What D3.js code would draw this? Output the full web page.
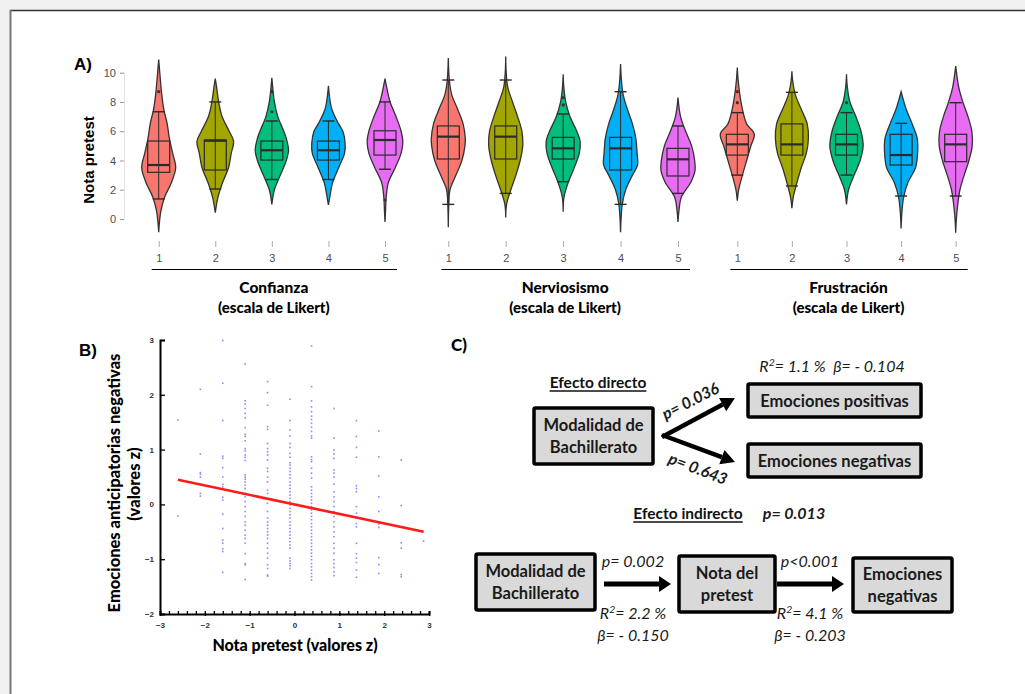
<!DOCTYPE html>
<html><head><meta charset="utf-8">
<script src="https://cdn.jsdelivr.net/npm/d3@7"></script>
<style>body{margin:0;background:#fff} svg{display:block}</style>
</head><body><svg id="c" width="1025" height="694"></svg>
<script>
// ---------------- DATA ----------------
const likert = ["1","2","3","4","5"];
const scaleNames = ["Confianza","Nerviosismo","Frustración"];
const scaleSub = "(escala de Likert)";
const fillColors = ["#F8766D","#A3A500","#00BF7D","#00B0F6","#E76BF3"];
const yTicksA = [0,2,4,6,8,10];
// box statistics per scale x likert level
const q1 = [[3.19,3.35,4.03,4.03,4.37],[4.10,4.10,4.10,3.35,2.94],[4.37,4.37,4.37,3.69,3.92]];
const med = [[3.69,5.35,4.70,4.70,5.40],[5.63,5.63,4.83,4.83,4.08],[5.10,5.10,5.10,4.37,5.10]];
const q3 = [[5.33,5.40,5.33,5.33,6.03],[6.36,6.36,5.58,5.58,4.83],[5.79,6.50,5.79,5.79,5.79]];
const whiskLo = [[1.37,2.05,2.70,2.70,3.40],[1.00,1.75,2.55,1.00,1.75],[3.00,2.26,3.00,1.57,1.57]];
const whiskHi = [[7.33,8.00,6.70,6.70,8.00],[9.50,9.50,7.18,8.70,6.36],[7.27,8.66,7.27,6.54,7.95]];
// outliers: [scale, level, value]
const outliers = [[0,0,8.7],[0,2,8.7],[0,2,7.33],[0,4,1.3],[1,2,8.3],[1,2,7.8],[2,0,8.7],[2,0,7.95],[2,2,7.95]];
// violin density profiles: [value, relative density]
const densC = [
 [[-0.9,0],[0.5,0.12],[1.5,0.35],[2.5,0.75],[3.5,1.0],[4.5,0.82],[5.5,0.63],[6.5,0.5],[7.5,0.3],[8.5,0.18],[9.5,0.1],[10.9,0]],
 [[0.43,0],[1.5,0.16],[2.5,0.43],[3.5,0.78],[4.5,0.94],[5.3,1.08],[6,0.82],[7,0.4],[8,0.2],[9,0.08],[9.6,0]],
 [[1.0,0],[2,0.15],[3,0.5],[4,0.85],[4.7,0.98],[5.5,0.85],[6,0.7],[7,0.35],[8,0.15],[9,0.05],[9.65,0]],
 [[0.96,0],[1.5,0.08],[2.5,0.25],[3.5,0.6],[4.5,0.95],[5.2,0.98],[6,0.85],[6.5,0.6],[7.5,0.2],[8.5,0.05],[9.1,0]],
 [[-0.2,0],[0.5,0.03],[1.5,0.07],[2.5,0.2],[3.5,0.6],[4.5,0.95],[5.3,1.05],[6,0.95],[7,0.65],[8,0.3],[9,0.1],[9.6,0]]
];
const densN = [
 [[-0.57,0],[1,0.03],[2,0.1],[3,0.45],[4,0.8],[5,0.98],[5.5,1.0],[6.5,0.87],[7.5,0.55],[8.5,0.2],[9.5,0.06],[11,0]],
 [[0.1,0],[1,0.05],[2,0.3],[3,0.6],[4,0.85],[5,1.0],[6,0.95],[7,0.7],[8,0.4],[9,0.12],[10,0.03],[11.1,0]],
 [[0.5,0],[1.5,0.05],[2.5,0.3],[3.5,0.65],[4.5,0.95],[5.3,1.0],[6,0.8],[7,0.4],[8,0.15],[9,0.04],[9.9,0]],
 [[-0.9,0],[0,0.03],[1,0.1],[2,0.3],[3,0.7],[3.7,1.0],[4.5,0.97],[5.5,0.9],[6.5,0.7],[7.5,0.4],[8.5,0.15],[9.5,0.05],[10.6,0]],
 [[-0.2,0],[0.5,0.05],[1.5,0.2],[2.5,0.75],[3.3,1.0],[4,0.98],[5,0.8],[6,0.45],[7,0.15],[8.3,0]]
];
const densF = [
 [[1.25,0],[2,0.08],[3,0.3],[4,0.55],[5,0.8],[5.8,1.0],[6.5,0.55],[7.5,0.3],[8.5,0.15],[9.5,0.05],[10.36,0]],
 [[0.73,0],[1.5,0.08],[2.5,0.3],[3.5,0.55],[4.5,0.85],[5.5,0.97],[6.5,0.9],[7.5,0.55],[8.5,0.2],[9.5,0.04],[10.1,0]],
 [[1.0,0],[2,0.12],[3,0.45],[4,0.8],[5,0.98],[6,0.85],[7,0.55],[8,0.2],[9,0.05],[9.9,0]],
 [[-0.64,0],[0.5,0.05],[1.5,0.15],[2.5,0.4],[3.5,0.85],[4.5,0.97],[5.5,0.95],[6.5,0.65],[7.5,0.3],[8.7,0]],
 [[-0.93,0],[0,0.04],[1,0.12],[2,0.25],[3,0.5],[4,0.78],[5,0.97],[6,0.95],[7,0.72],[8,0.42],[9,0.18],[10.45,0]]
];
const densities = [densC, densN, densF];

// Panel B scatter
const scatterX = [-2.6,-2.1,-1.6,-1.1,-0.6,-0.1,0.38,0.88,1.38,1.88,2.38,2.88];
const scatterY = [
 [1.54,-0.21],
 [2.1,0.92,0.58,0.55,0.5,0.2,0.15],
 [2.99,2.21,1.53,0.88,0.84,0.67,0.5,0.37,0.32,0.28,0.13,0.08,-0.18,-0.44,-0.65,-0.71,-0.81,-0.86,-1.24],
 [2.56,1.89,1.83,1.75,1.66,1.58,1.4,1.28,1.24,1.16,1.02,0.98,0.9,0.86,0.8,0.54,0.5,0.46,0.41,0.35,0.29,0.2,0.14,0.05,-0.04,-0.13,-0.22,-0.32,-0.38,-0.47,-0.56,-0.62,-0.71,-0.9,-1.08,-1.1,-1.37],
 [2.24,2.04,1.81,1.42,1.37,1.11,1.02,0.96,0.9,0.81,0.66,0.6,0.5,0.41,0.26,0.2,0.11,0.02,-0.13,-0.25,-0.32,-0.38,-0.44,-0.5,-0.56,-0.62,-0.71,-0.8,-0.89,-0.98,-1.1,-1.17,-1.29,-1.31],
 [1.92,1.53,1.36,1.25,1.11,1.04,0.93,0.86,0.76,0.72,0.66,0.6,0.54,0.48,0.41,0.35,0.29,0.23,0.17,0.11,0.05,-0.01,-0.07,-0.13,-0.19,-0.25,-0.32,-0.38,-0.44,-0.5,-0.56,-0.62,-0.68,-0.74,-0.8,-0.98,-1.03,-1.08,-1.12,-1.17],
 [2.89,2.15,1.89,1.78,1.69,1.61,1.55,1.48,1.41,1.33,1.25,1.21,0.87,0.82,0.78,0.66,0.57,0.48,0.32,0.26,0.2,0.14,0.08,0.02,-0.04,-0.1,-0.16,-0.22,-0.28,-0.35,-0.41,-0.47,-0.53,-0.59,-0.65,-0.71,-0.77,-0.83,-0.89,-0.95,-1.01,-1.08,-1.14,-1.2,-1.26,-1.32,-1.38],
 [1.75,1.21,0.99,0.92,0.84,0.63,0.57,0.5,0.37,0.23,0.14,0.05,-0.04,-0.13,-0.22,-0.32,-0.41,-0.5,-0.59,-0.71,-0.8,-0.89,-1.01,-1.08,-1.15,-1.23,-1.3],
 [1.53,1.24,1.04,0.86,0.34,0.29,0.23,-0.04,-0.16,-0.35,-0.41,-0.71,-0.9,-0.98,-1.06,-1.2,-1.33],
 [1.34,0.87,0.52,0.14,-0.13,-0.36,-0.42,-0.97,-1.1,-1.26],
 [0.81,-0.02,-0.7,-0.8,-1.28,-1.32],
 [-0.67]
];
const regX = [-2.6, 2.88];
const regY = [0.45, -0.5];
const xTicksB = [-3,-2,-1,0,1,2,3];
const yTicksB = [-2,-1,0,1,2,3];

// Panel C labels
const directStats = ["p= 0.036","p= 0.643"];
const directTop = "= 1.1 %\u00a0\u00a0β= - 0.104";
const indirectP = "p= 0.013";
const indirectP1 = ["p= 0.002","p<0.001"];
const indirectR2 = ["= 2.2 %","= 4.1 %"];
const indirectBeta = ["β= - 0.150","β= - 0.203"];

// ---------------- DRAW ----------------
const svg = d3.select("#c");
const calib = "Lato, 'Open Sans', sans-serif";
const arial = "'Liberation Sans', Arial, sans-serif";

// frame
svg.append("rect").attr("x",0).attr("y",0).attr("width",1025).attr("height",10).attr("fill","#f1f1f1");
svg.append("rect").attr("x",0).attr("y",0).attr("width",10).attr("height",694).attr("fill","#f1f1f1");
svg.append("line").attr("x1",10).attr("x2",1025).attr("y1",10.5).attr("y2",10.5).attr("stroke","#333").attr("stroke-width",1.5);
svg.append("line").attr("x1",10.5).attr("x2",10.5).attr("y1",10).attr("y2",694).attr("stroke","#777").attr("stroke-width",2);

// ===== Panel A =====
const yA = d3.scaleLinear().domain([0,10]).range([219,72.7]);
const xRanges = [[158.7,385],[448.3,678],[737.3,955.7]];
const xA = xRanges.map(r => d3.scalePoint().domain(likert).range(r));
const wA = d3.scaleLinear().domain([0,1]).range([0,17]);

svg.append("text").attr("x",74).attr("y",70).text("A)")
  .attr("font-family",arial).attr("font-weight","bold").attr("font-size",17);

const gyA = svg.append("g").attr("transform","translate(124,0)")
  .call(d3.axisLeft(yA).tickValues(yTicksA).tickSize(4).tickPadding(4));
gyA.select(".domain").attr("stroke","#e3e3e3");
gyA.selectAll(".tick line").attr("stroke","#999");
gyA.selectAll(".tick text").attr("fill","#4d4d4d").attr("font-size",11).attr("font-family",arial);

svg.append("text").attr("transform","translate(94,160) rotate(-90)").attr("text-anchor","middle")
  .attr("font-family",arial).attr("font-weight","bold").attr("font-size",15).text("Nota pretest");

densities.forEach((groupDens, g) => {
  const xs = xA[g];
  const gx = svg.append("g").attr("transform","translate(0,241)")
    .call(d3.axisBottom(xs).tickSize(6).tickPadding(7));
  gx.select(".domain").remove();
  gx.selectAll(".tick line").attr("stroke","#aaa");
  gx.selectAll(".tick text").attr("fill","#4d4d4d").attr("font-size",11).attr("font-family",arial);
  const r = xs.range();
  svg.append("line").attr("x1",r[0]-7).attr("x2",r[1]+12).attr("y1",269.5).attr("y2",269.5).attr("stroke","#000").attr("stroke-width",1.2);
  const mid = (r[0]+r[1])/2 + 2;
  svg.append("text").attr("x",mid).attr("y",293).attr("text-anchor","middle")
    .attr("font-family",calib).attr("font-weight","900").attr("font-size",15.5).text(scaleNames[g]);
  svg.append("text").attr("x",mid).attr("y",313).attr("text-anchor","middle")
    .attr("font-family",calib).attr("font-weight","900").attr("font-size",15).text(scaleSub);

  likert.forEach((lv, i) => {
    const cx = xs(lv);
    const area = d3.area()
      .y(d => yA(d[0]))
      .x0(d => cx - wA(d[1]))
      .x1(d => cx + wA(d[1]))
      .curve(d3.curveCatmullRom.alpha(0.5));
    svg.append("path").datum(groupDens[i]).attr("d",area)
      .attr("fill",fillColors[i]).attr("stroke","#333").attr("stroke-width",1.3);
    const vg = svg.append("g").attr("stroke","#2b2b2b");
    vg.append("rect").attr("x",cx-11).attr("width",22)
      .attr("y",yA(q3[g][i])).attr("height",yA(q1[g][i])-yA(q3[g][i]))
      .attr("fill",fillColors[i]).attr("stroke-width",1.2);
    vg.append("line").attr("x1",cx).attr("x2",cx).attr("y1",yA(whiskLo[g][i])).attr("y2",yA(whiskHi[g][i])).attr("stroke-width",1);
    [whiskLo[g][i], whiskHi[g][i]].forEach(v => {
      vg.append("line").attr("x1",cx-6).attr("x2",cx+6).attr("y1",yA(v)).attr("y2",yA(v)).attr("stroke-width",1.4);
    });
    vg.append("line").attr("x1",cx-11).attr("x2",cx+11).attr("y1",yA(med[g][i])).attr("y2",yA(med[g][i])).attr("stroke-width",2.2);
  });
});
outliers.forEach(o => {
  svg.append("circle").attr("cx",xA[o[0]](likert[o[1]])).attr("cy",yA(o[2])).attr("r",1.6).attr("fill","#333");
});

// ===== Panel B =====
const xB = d3.scaleLinear().domain([-3,3]).range([160,429]);
const yB = d3.scaleLinear().domain([-2,3]).range([614,340]);
svg.append("text").attr("x",79).attr("y",356).text("B)")
  .attr("font-family",arial).attr("font-weight","bold").attr("font-size",17);

const pts = [];
scatterX.forEach((x,i) => scatterY[i].forEach(y => pts.push([x,y])));
svg.append("g").selectAll("rect").data(pts).join("rect")
  .attr("x",d => xB(d[0])-0.8).attr("y",d => yB(d[1])-0.8).attr("width",1.6).attr("height",1.6)
  .attr("fill","#5a5aff").attr("opacity",0.7);

svg.append("line").attr("x1",xB(regX[0])).attr("y1",yB(regY[0])).attr("x2",xB(regX[1])).attr("y2",yB(regY[1]))
  .attr("stroke","#ff1a1a").attr("stroke-width",2.6);

const gyB = svg.append("g").attr("transform","translate(160,0)")
  .call(d3.axisRight(yB).tickValues(yTicksB).tickSize(5).tickFormat(d3.format("d")));
gyB.select(".domain").attr("stroke","#000").attr("stroke-width",2);
gyB.selectAll(".tick line").attr("stroke","#000").attr("stroke-width",1.3);
gyB.selectAll(".tick text").attr("x",-6).attr("text-anchor","end").attr("fill","#333")
  .attr("font-size",8).attr("font-weight","bold").attr("font-family",arial);

const minorB = d3.range(-3, 3.0001, 0.2);
const gxBm = svg.append("g").attr("transform","translate(0,614)")
  .call(d3.axisTop(xB).tickValues(minorB).tickSize(3).tickFormat(""));
gxBm.select(".domain").attr("stroke","#000").attr("stroke-width",2);
gxBm.selectAll(".tick line").attr("stroke","#000").attr("stroke-width",1.3);
const gxB = svg.append("g").attr("transform","translate(0,613)")
  .call(d3.axisBottom(xB).tickValues(xTicksB).tickSize(3).tickPadding(6).tickFormat(d3.format("d")));
gxB.select(".domain").remove();
gxB.selectAll(".tick line").attr("stroke","#000").attr("stroke-width",1.3);
gxB.selectAll(".tick text").attr("fill","#333").attr("font-size",8).attr("font-weight","bold").attr("font-family",arial);

svg.append("text").attr("transform","translate(120,483) rotate(-90)").attr("text-anchor","middle")
  .attr("font-family",calib).attr("font-weight","900").attr("font-size",16.5).text("Emociones anticipatorias negativas");
svg.append("text").attr("transform","translate(140,484) rotate(-90)").attr("text-anchor","middle")
  .attr("font-family",calib).attr("font-weight","900").attr("font-size",16.5).text("(valores z)");
svg.append("text").attr("x",295).attr("y",651).attr("text-anchor","middle")
  .attr("font-family",calib).attr("font-weight","900").attr("font-size",16).text("Nota pretest (valores z)");

// ===== Panel C =====
svg.append("text").attr("x",451).attr("y",351).text("C)")
  .attr("font-family",calib).attr("font-weight","900").attr("font-size",17);

function underlined(x, y, txt, size) {
  const t = svg.append("text").attr("x",x).attr("y",y).attr("text-anchor","middle")
    .attr("font-family",calib).attr("font-weight","bold").attr("font-size",size).attr("fill","#111").text(txt);
  const w = t.node().getComputedTextLength();
  svg.append("line").attr("x1",x-w/2).attr("x2",x+w/2).attr("y1",y+3).attr("y2",y+3).attr("stroke","#111").attr("stroke-width",1.3);
}
function box(x, y, w, h, lines, size) {
  svg.append("rect").attr("x",x).attr("y",y).attr("width",w).attr("height",h)
    .attr("fill","#d9d9d9").attr("stroke","#000").attr("stroke-width",3.5).attr("rx",1.5);
  const n = lines.length;
  lines.forEach((l,k) => {
    svg.append("text").attr("x",x+w/2).attr("y",y+h/2 + (k-(n-1)/2)*22 + 6).attr("text-anchor","middle")
      .attr("font-family",calib).attr("font-weight","bold").attr("font-size",size).attr("fill","#1a1a1a").text(l);
  });
}
function arrow(x1,y1,x2,y2,w,head,hw) {
  const a = Math.atan2(y2-y1,x2-x1);
  const bx = x2 - head*Math.cos(a), by = y2 - head*Math.sin(a);
  svg.append("line").attr("x1",x1).attr("y1",y1).attr("x2",bx).attr("y2",by).attr("stroke","#000").attr("stroke-width",w);
  const px = -Math.sin(a)*hw, py = Math.cos(a)*hw;
  svg.append("polygon").attr("points",[[x2,y2],[bx+px,by+py],[bx-px,by-py]].map(p=>p.join(",")).join(" ")).attr("fill","#000");
}
function italicText(x,y,parts,size,weight,rot) {
  const t = svg.append("text").attr("text-anchor","middle")
    .attr("font-family",calib).attr("font-style","italic").attr("font-weight",weight||"normal").attr("font-size",size).attr("fill","#1a1a1a");
  if (rot) t.attr("transform",`translate(${x},${y}) rotate(${rot})`); else t.attr("x",x).attr("y",y);
  parts.forEach(p => {
    const s = t.append("tspan").text(p.t);
    if (p.sup) s.attr("dy",-6).attr("font-size",size*0.65);
    if (p.down) s.attr("dy",6);
  });
}

underlined(598, 388, "Efecto directo", 15.5);
italicText(832, 372, [{t:"R"},{t:"2",sup:true},{t:directTop,down:true}], 16);
box(534, 408, 119, 56, ["Modalidad de","Bachillerato"], 16.5);
box(748, 384, 173, 33, ["Emociones positivas"], 16.5);
box(748, 444, 173, 33, ["Emociones negativas"], 16.5);
arrow(662, 437, 735, 398, 4.5, 14, 7.5);
arrow(662, 435, 735, 462, 4.5, 14, 7.5);
italicText(693, 406, [{t:directStats[0]}], 16, "bold", -27);
italicText(696, 474, [{t:directStats[1]}], 16, "bold", 21);

underlined(688, 519, "Efecto indirecto", 15.5);
italicText(794, 519, [{t:indirectP}], 16, "bold");

box(476, 554, 119, 56, ["Modalidad de","Bachillerato"], 16.5);
box(679, 556, 96, 56, ["Nota del","pretest"], 16.5);
box(853, 558, 99, 54, ["Emociones","negativas"], 16.5);
arrow(604, 584, 671, 584, 5, 12, 8);
arrow(777, 584, 844, 584, 5, 12, 8);
[[633,0],[810,1]].forEach(([x,k]) => {
  italicText(x, 567, [{t:indirectP1[k]}], 16);
  italicText(x, 619, [{t:"R"},{t:"2",sup:true},{t:indirectR2[k],down:true}], 16);
  italicText(x, 641, [{t:indirectBeta[k]}], 16);
});
</script>
</body></html>
